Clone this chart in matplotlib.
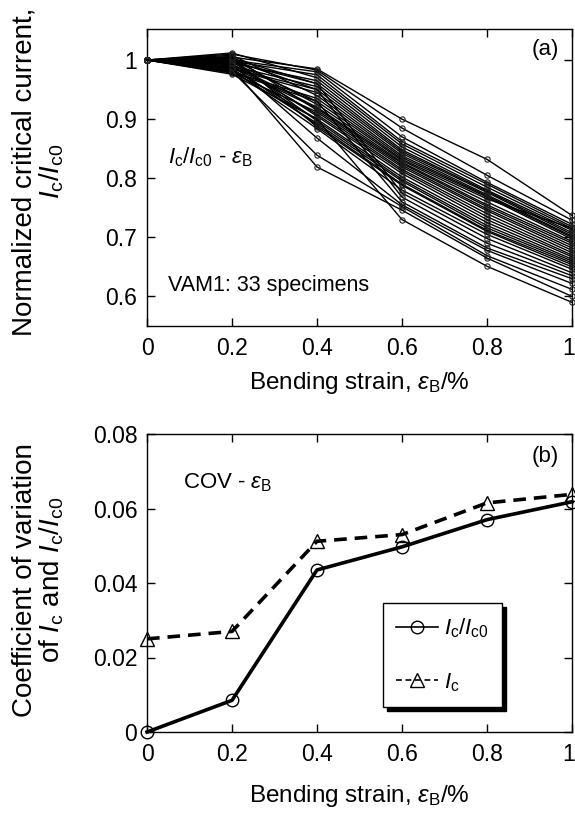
import matplotlib
matplotlib.use('Agg')
import matplotlib.pyplot as plt
from matplotlib.transforms import ScaledTranslation

plt.rcParams['font.family'] = ['Liberation Sans', 'DejaVu Sans']
plt.rcParams['mathtext.fontset'] = 'custom'
plt.rcParams['mathtext.rm'] = 'Liberation Sans'
plt.rcParams['mathtext.it'] = 'Liberation Sans:italic'
plt.rcParams['mathtext.bf'] = 'Liberation Sans:bold'

# ---------------- data ----------------
strain = [0.0, 0.2, 0.4, 0.6, 0.8, 1.0]

# normalized critical current of each of the 33 specimens at each strain
ic_e00 = [1.000, 1.000, 1.000, 1.000, 1.000, 1.000, 1.000, 1.000, 1.000, 1.000, 1.000,
          1.000, 1.000, 1.000, 1.000, 1.000, 1.000, 1.000, 1.000, 1.000, 1.000, 1.000,
          1.000, 1.000, 1.000, 1.000, 1.000, 1.000, 1.000, 1.000, 1.000, 1.000, 1.000]
ic_e02 = [1.005, 1.010, 1.000, 0.998, 1.012, 0.995, 1.003, 0.990, 1.000, 0.985, 1.008,
          0.980, 0.996, 1.002, 0.992, 0.988, 1.006, 0.978, 0.994, 0.998, 0.985, 1.000,
          0.982, 0.990, 1.004, 0.983, 0.997, 0.986, 0.979, 0.993, 0.981, 0.987, 0.976]
ic_e04 = [0.985, 0.983, 0.980, 0.975, 0.970, 0.965, 0.960, 0.955, 0.950, 0.945, 0.940,
          0.935, 0.930, 0.925, 0.920, 0.918, 0.915, 0.912, 0.908, 0.905, 0.900, 0.897,
          0.893, 0.890, 0.887, 0.884, 0.960, 0.950, 0.930, 0.868, 0.839, 0.819, 0.900]
ic_e06 = [0.900, 0.885, 0.870, 0.862, 0.858, 0.853, 0.848, 0.845, 0.842, 0.838, 0.835,
          0.832, 0.830, 0.827, 0.825, 0.822, 0.819, 0.815, 0.812, 0.808, 0.802, 0.798,
          0.795, 0.790, 0.788, 0.780, 0.775, 0.768, 0.760, 0.755, 0.752, 0.746, 0.730]
ic_e08 = [0.832, 0.805, 0.793, 0.790, 0.785, 0.780, 0.778, 0.776, 0.772, 0.770, 0.768,
          0.765, 0.760, 0.755, 0.752, 0.748, 0.745, 0.740, 0.735, 0.730, 0.725, 0.720,
          0.716, 0.712, 0.710, 0.705, 0.698, 0.690, 0.682, 0.678, 0.669, 0.665, 0.651]
ic_e10 = [0.737, 0.729, 0.722, 0.718, 0.715, 0.712, 0.708, 0.705, 0.702, 0.700, 0.697,
          0.715, 0.693, 0.690, 0.686, 0.682, 0.678, 0.674, 0.670, 0.667, 0.663, 0.660,
          0.657, 0.654, 0.650, 0.646, 0.640, 0.635, 0.630, 0.622, 0.612, 0.600, 0.590]

# coefficient of variation
cov_norm = [0.0, 0.0085, 0.0435, 0.0497, 0.0570, 0.0618]
cov_ic = [0.0250, 0.0270, 0.0512, 0.0530, 0.0615, 0.0638]

xticks = [0, 0.2, 0.4, 0.6, 0.8, 1.0]
xticklabels = ['0', '0.2', '0.4', '0.6', '0.8', '1']
yticks_a = [0.6, 0.7, 0.8, 0.9, 1.0]
yticklabels_a = ['0.6', '0.7', '0.8', '0.9', '1']
yticks_b = [0, 0.02, 0.04, 0.06, 0.08]
yticklabels_b = ['0', '0.02', '0.04', '0.06', '0.08']

# ---------------- figure ----------------
W, H = 575, 814
fig = plt.figure(figsize=(W / 100, H / 100), dpi=100)

def ax_rect(l, r, t, b):
    return [l / W, 1 - b / H, (r - l) / W, (b - t) / H]

ax1 = fig.add_axes(ax_rect(147, 572, 29, 326))
ax2 = fig.add_axes(ax_rect(147, 572, 434, 732))

columns = [ic_e00, ic_e02, ic_e04, ic_e06, ic_e08, ic_e10]
for i in range(len(ic_e00)):
    ys = [col[i] for col in columns]
    ax1.plot(strain, ys, '-o', color='k', lw=1.0, ms=3.8, mfc='none',
             mec='#222222', mew=0.8, clip_on=False, zorder=3)

ax1.set_xlim(0, 1)
ax1.set_ylim(0.55, 1.0525)

ax2.plot(strain, cov_norm, '-o', color='k', lw=2.6, ms=9, mfc='none', mew=1.0,
         clip_on=False, zorder=4, label=r'$I_{\mathrm{c}}/I_{\mathrm{c0}}$')
ax2.plot(strain, cov_ic, '--^', color='k', lw=2.6, ms=9.5, mfc='none', mew=1.0,
         dashes=(3.5, 2.2), clip_on=False, zorder=4, label=r'$I_{\mathrm{c}}$')
ax2.set_xlim(0, 1)
ax2.set_ylim(0, 0.08)

for ax, lp in ((ax1, 7), (ax2, 12)):
    ax.set_xticks(xticks)
    ax.set_xticklabels(xticklabels)
    ax.tick_params(direction='in', top=True, right=True, length=6, width=1,
                   labelsize=16.5, colors='k')
    ax.tick_params(axis='x', pad=8)
    ax.tick_params(axis='y', pad=7)
    for s in ax.spines.values():
        s.set_linewidth(1.0)
    ax.set_xlabel(r'Bending strain, $\varepsilon_{\mathrm{B}}$/%', fontsize=17.5, labelpad=lp)
    last = ax.get_xticklabels()[-1]
    last.set_transform(last.get_transform() + ScaledTranslation(-3 / 100, 0, fig.dpi_scale_trans))

ax1.set_yticks(yticks_a)
ax1.set_yticklabels(yticklabels_a)
ax2.set_yticks(yticks_b)
ax2.set_yticklabels(yticklabels_b)

ax1.set_ylabel('Normalized critical current,\n' + r'$I_{\mathrm{c}}/I_{\mathrm{c0}}$',
               fontsize=20, linespacing=1.0)
ax2.set_ylabel('Coefficient of variation\n' +
               r'of $I_{\mathrm{c}}$ and $I_{\mathrm{c}}/I_{\mathrm{c0}}$',
               fontsize=20, linespacing=1.0)
ax1.yaxis.set_label_coords(-0.19, 0.52)
ax2.yaxis.set_label_coords(-0.19, 0.51)

ax1.text(0.97, 0.93, '(a)', transform=ax1.transAxes, fontsize=16, ha='right', va='center')
ax1.text(0.05, 0.57, r'$I_{\mathrm{c}}/I_{\mathrm{c0}}$ - $\varepsilon_{\mathrm{B}}$',
         transform=ax1.transAxes, fontsize=16, ha='left', va='center')
ax1.text(0.05, 0.135, 'VAM1: 33 specimens', transform=ax1.transAxes, fontsize=15.5,
         ha='left', va='center')

ax2.text(0.97, 0.925, '(b)', transform=ax2.transAxes, fontsize=16, ha='right', va='center')
ax2.text(0.085, 0.835, r'COV - $\varepsilon_{\mathrm{B}}$', transform=ax2.transAxes,
         fontsize=16, ha='left', va='center')

leg = ax2.legend(loc='upper left', bbox_to_anchor=(0.555, 0.433), borderaxespad=0,
                 fontsize=16, frameon=True, fancybox=False, handlelength=1.9,
                 handletextpad=0.25, borderpad=0.6, labelspacing=1.4,
                 shadow={'color': 'k', 'alpha': 1.0, 'ox': 3, 'oy': -3})
leg.get_frame().set_edgecolor('k')
leg.get_frame().set_linewidth(1.0)
leg.get_frame().set_facecolor('white')
for h in leg.get_lines():
    h.set_linewidth(1.2)

fig.savefig('out.png', dpi=100)
